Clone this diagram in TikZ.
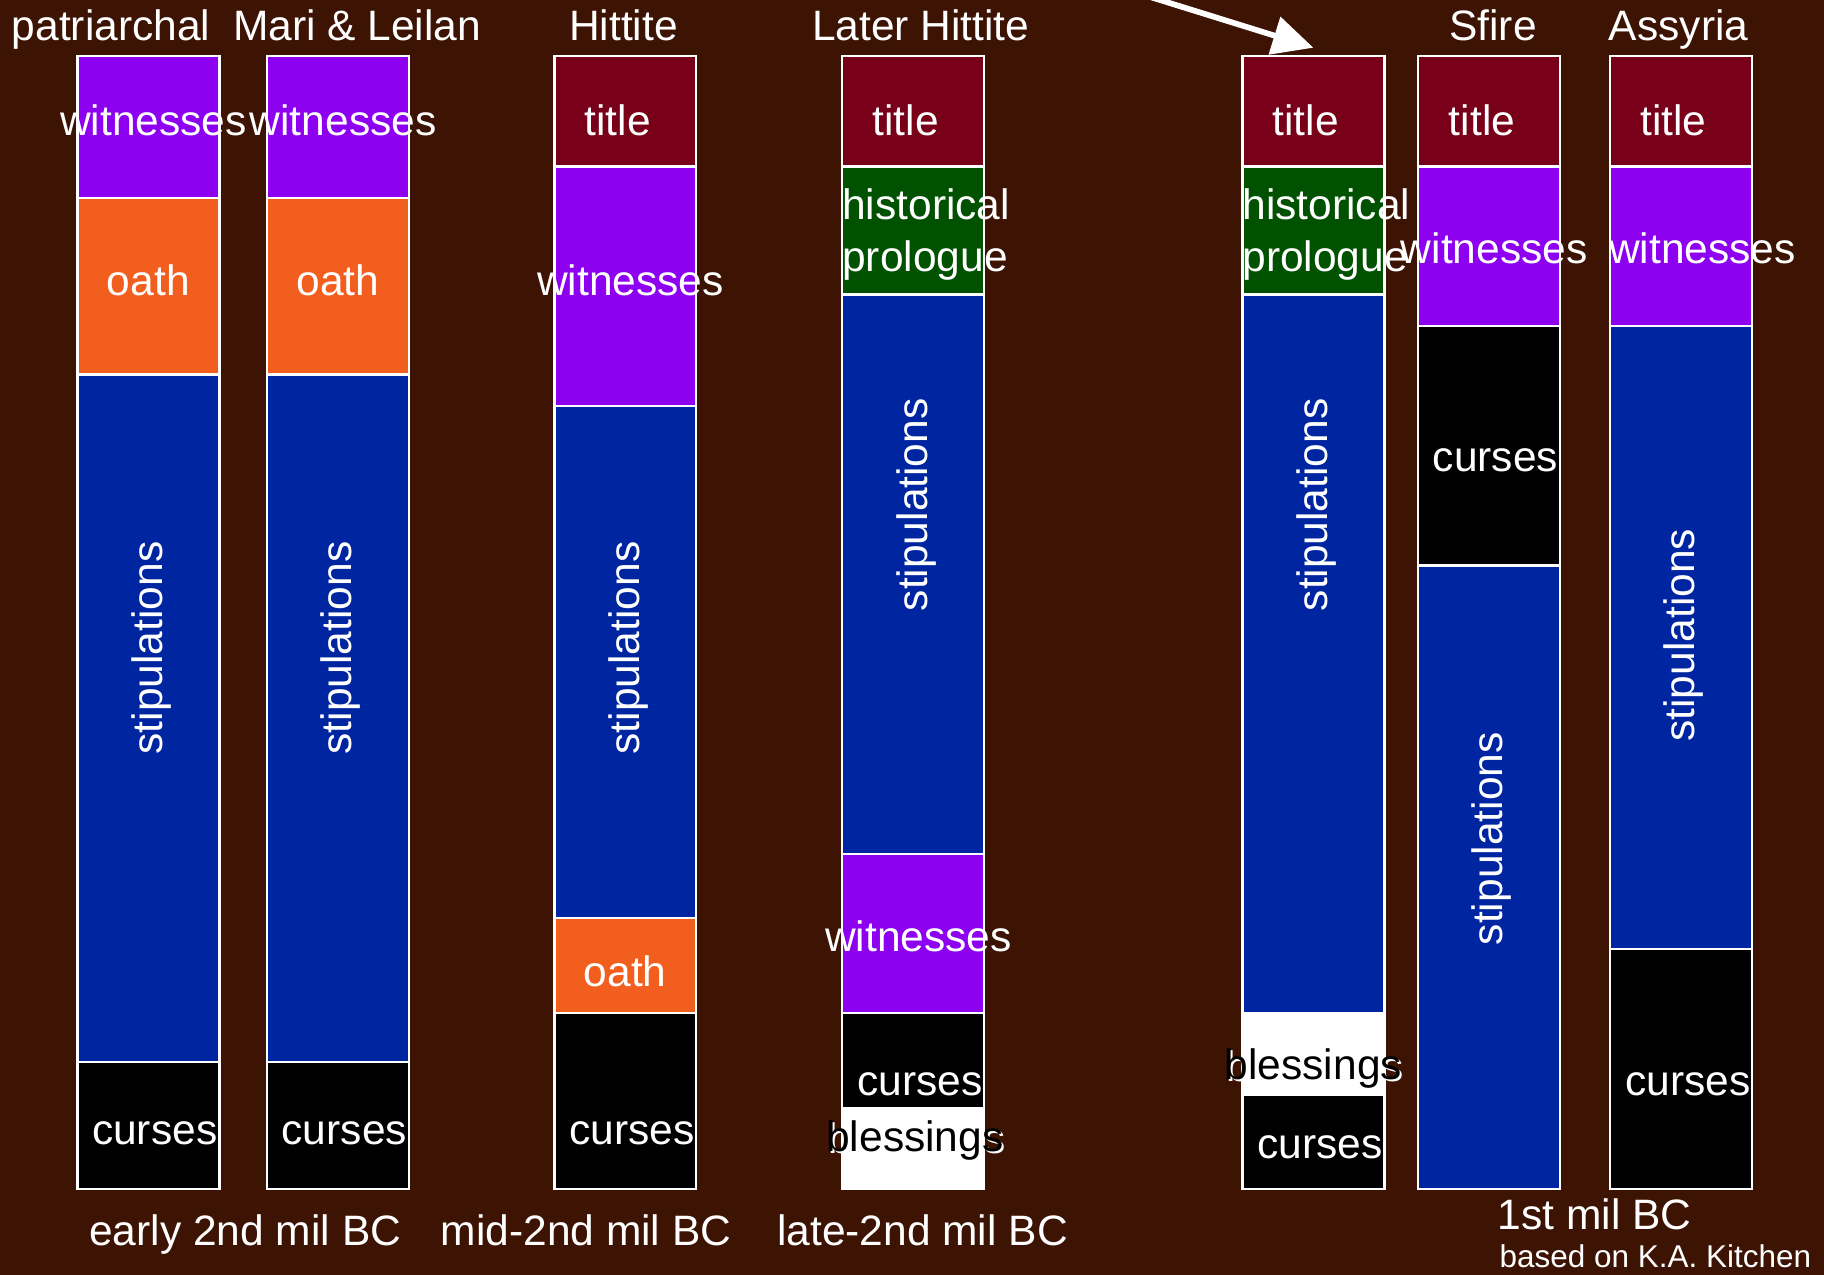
\documentclass[tikz,border=0pt]{standalone}
\usepackage{fontspec}
\setmainfont{Liberation Sans}
\usetikzlibrary{arrows.meta}
\definecolor{bg}{HTML}{3D1303}
\definecolor{wit}{HTML}{8E00F0}
\definecolor{oath}{HTML}{F25E1E}
\definecolor{stip}{HTML}{0025A0}
\definecolor{ttl}{HTML}{780018}
\definecolor{hist}{HTML}{005200}
\newcommand{\lbl}[3]{\makebox[0pt]{\hspace*{#1cm}\hspace*{#1cm}\raisebox{#2cm}[0pt][0pt]{#3}}}
\newcommand{\shd}[1]{\makebox[0pt][l]{\kern0.018cm\raisebox{-0.018cm}{\color{white}#1}}#1}
\newcommand{\hpro}{\parbox[b]{1.22cm}{\raggedright historical\\prologue}}
\begin{document}
\begin{tikzpicture}[
  seg/.style={draw=white, line width=0.6pt, minimum width=1.22cm, inner sep=0pt, outer sep=0pt, text=white, font=\fontsize{10.4}{12.5}\selectfont},
  vseg/.style={seg, fill=stip, rotate=90, minimum height=1.22cm},
  hd/.style={text=white, anchor=base, inner sep=0pt, font=\fontsize{10.4}{12.5}\selectfont},
  arr/.style={white, line width=1.4pt, -{Triangle[length=0.35cm,width=0.33cm]}}]
\fill[bg] (0,0) rectangle (15.68,-10.96);
\useasboundingbox (0,0) rectangle (15.68,-10.96);
\node[hd] (hp) at (0.955,-0.35) {patriarchal};
\node[hd] (hm) at (3.07,-0.35) {Mari \& Leilan};
\node[hd] (hh) at (5.36,-0.35) {Hittite};
\node[hd] (hl) at (7.915,-0.35) {Later Hittite};
\node[hd] (hs) at (12.835,-0.35) {Sfire};
\node[hd] (ha) at (14.43,-0.35) {Assyria};
\node[seg, fill=wit, minimum height=1.22cm] (p0) at (1.275,-1.09) {\lbl{0.045}{-0.079}{witnesses}};
\node[seg, fill=oath, minimum height=1.52cm] (p1) at (1.275,-2.46) {\lbl{0}{-0.084}{oath}};
\node[vseg, minimum width=5.91cm] (p2) at (1.275,-6.175) {\lbl{0.605}{-0.12}{stipulations}};
\node[seg, fill=black, minimum height=1.09cm] (p3) at (1.275,-9.675) {\lbl{0.055}{-0.161}{curses}};
\node[seg, fill=wit, minimum height=1.22cm] (m0) at (2.905,-1.09) {\lbl{0.045}{-0.079}{witnesses}};
\node[seg, fill=oath, minimum height=1.52cm] (m1) at (2.905,-2.46) {\lbl{0}{-0.084}{oath}};
\node[vseg, minimum width=5.91cm] (m2) at (2.905,-6.175) {\lbl{0.605}{-0.12}{stipulations}};
\node[seg, fill=black, minimum height=1.09cm] (m3) at (2.905,-9.675) {\lbl{0.055}{-0.161}{curses}};
\node[seg, fill=ttl, minimum height=0.95cm] (h0) at (5.375,-0.955) {\lbl{-0.065}{-0.213}{title}};
\node[seg, fill=wit, minimum height=2.06cm] (h1) at (5.375,-2.46) {\lbl{0.045}{-0.084}{witnesses}};
\node[vseg, minimum width=4.40cm] (h2) at (5.375,-5.69) {\lbl{0.12}{-0.12}{stipulations}};
\node[seg, fill=oath, minimum height=0.82cm] (h3) at (5.375,-8.30) {\lbl{0}{-0.178}{oath}};
\node[seg, fill=black, minimum height=1.51cm] (h4) at (5.375,-9.465) {\lbl{0.06}{-0.371}{curses}};
\node[seg, fill=ttl, minimum height=0.95cm] (l0) at (7.85,-0.955) {\lbl{-0.065}{-0.213}{title}};
\node[seg, fill=hist, minimum height=1.10cm] (l1) at (7.85,-1.98) {\lbl{0}{-0.35}{\hpro}};
\node[vseg, minimum width=4.81cm] (l2) at (7.85,-4.935) {\lbl{0.595}{-0.12}{stipulations}};
\node[seg, fill=wit, minimum height=1.37cm] (l3) at (7.85,-8.025) {\lbl{0.045}{-0.158}{witnesses}};
\node[seg, fill=black, minimum height=0.82cm] (l4) at (7.85,-9.12) {\lbl{0.06}{-0.298}{curses}};
\node[seg, fill=white, text=black, minimum height=0.69cm] (l5) at (7.85,-9.875) {\lbl{0.015}{-0.025}{\shd{blessings}}};
\node[seg, fill=ttl, minimum height=0.95cm] (n0) at (11.29,-0.955) {\lbl{-0.065}{-0.213}{title}};
\node[seg, fill=hist, minimum height=1.10cm] (n1) at (11.29,-1.98) {\lbl{0}{-0.35}{\hpro}};
\node[vseg, minimum width=6.18cm] (n2) at (11.29,-5.62) {\lbl{1.28}{-0.12}{stipulations}};
\node[seg, fill=white, text=black, minimum height=0.70cm] (n3) at (11.29,-9.06) {\lbl{0}{-0.219}{\shd{blessings}}};
\node[seg, fill=black, minimum height=0.81cm] (n4) at (11.29,-9.815) {\lbl{0.055}{-0.143}{curses}};
\node[seg, fill=ttl, minimum height=0.95cm] (s0) at (12.80,-0.955) {\lbl{-0.06}{-0.213}{title}};
\node[seg, fill=wit, minimum height=1.37cm] (s1) at (12.80,-2.115) {\lbl{0.045}{-0.148}{witnesses}};
\node[seg, fill=black, minimum height=2.06cm] (s2) at (12.80,-3.83) {\lbl{0.055}{-0.223}{curses}};
\node[vseg, minimum width=5.36cm] (s3) at (12.80,-7.54) {\lbl{0.33}{-0.12}{stipulations}};
\node[seg, fill=ttl, minimum height=0.95cm] (a0) at (14.45,-0.955) {\lbl{-0.065}{-0.213}{title}};
\node[seg, fill=wit, minimum height=1.37cm] (a1) at (14.45,-2.115) {\lbl{0.185}{-0.148}{witnesses}};
\node[vseg, minimum width=5.36cm] (a2) at (14.45,-5.48) {\lbl{0.02}{-0.12}{stipulations}};
\node[seg, fill=black, minimum height=2.06cm] (a3) at (14.45,-9.19) {\lbl{0.06}{-0.228}{curses}};
\node[hd] (e0) at (2.108,-10.706) {early 2nd mil BC};
\node[hd] (e1) at (5.038,-10.706) {mid-2nd mil BC};
\node[hd] (e2) at (7.93,-10.706) {late-2nd mil BC};
\node[hd] (e3) at (13.708,-10.567) {1st mil BC};
\node[hd, font=\fontsize{7.7}{9}\selectfont] (e4) at (14.23,-10.898) {based on K.A. Kitchen};
\coordinate (src) at (9.65,0.10);
\draw[arr] (src) -- ([yshift=0.07cm]n0.north);
\end{tikzpicture}
\end{document}
